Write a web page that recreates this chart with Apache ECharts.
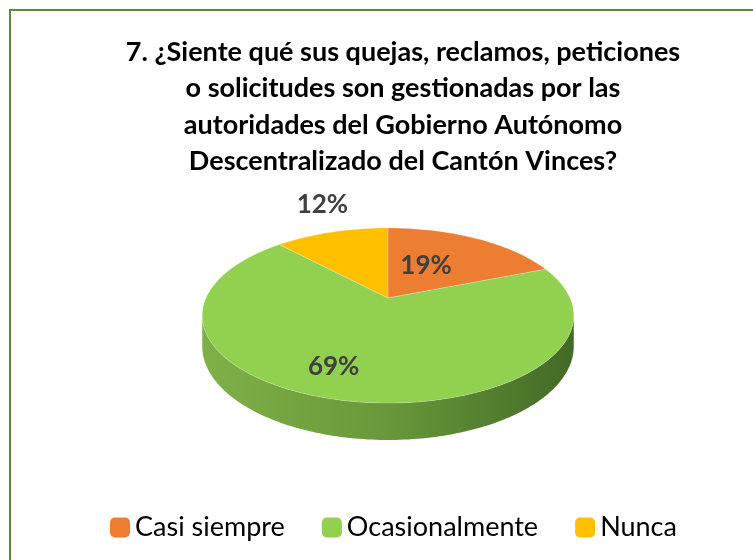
<!DOCTYPE html>
<html lang="es">

<head>
    <meta charset="UTF-8">
    <title>Pregunta 7</title>
    <script src="https://cdn.jsdelivr.net/npm/echarts@6/dist/echarts.min.js"></script>
    <style>
        body { margin: 0; background: #fff; }
        #main { width: 753px; height: 560px; }
    </style>
</head>

<body>
    <div id="main"></div>
    <script>
        // datos
        var categories = ['Casi siempre', 'Ocasionalmente', 'Nunca'];
        var values = [19, 69, 12];
        var colors = ['#ED7D31', '#92D050', '#FFC000'];
        var titleLines = [
            '7. ¿Siente qué sus quejas, reclamos, peticiones',
            'o solicitudes son gestionadas por las',
            'autoridades del Gobierno Autónomo',
            'Descentralizado del Cantón Vinces?'
        ];

        // geometria del pastel 3D (perspectiva simple)
        var cx = 388, cy = 298, K = 182;
        var sinA = 0.4615, cosA = 0.887, D = 4.43, thick = 0.183;
        // posicion de etiquetas: radio relativo y giro (grados) sobre el angulo medio
        var labelR = [0.48, 0.75, 1.5];
        var labelTurn = [-6, 7.4, 3.6];
        var total = values.reduce(function (a, b) { return a + b; }, 0);

        function project(r, t, lower) {
            var s = D / (D + r * Math.cos(t) * cosA);
            var x = cx + s * r * Math.sin(t) * K;
            var y = cy - s * r * Math.cos(t) * sinA * K;
            if (lower) y += s * thick * cosA * K;
            return [x, y];
        }

        function arc(a, b, lower) {
            var pts = [];
            var n = Math.max(2, Math.ceil((b - a) / 0.02));
            for (var k = 0; k <= n; k++) pts.push(project(1, a + (b - a) * k / n, lower));
            return pts;
        }

        // lado visible: entre las siluetas izquierda y derecha
        var tL = Math.acos(-cosA / D), tR = 2 * Math.PI - tL;

        function makeRender(i) {
            return function (params, api) {
                var before = 0;
                for (var j = 0; j < i; j++) before += values[j];
                var v = api.value(0);
                var a = before / total * 2 * Math.PI;
                var b = (before + v) / total * 2 * Math.PI;
                var children = [];

                var sa = Math.max(a, tL), sb = Math.min(b, tR);
                if (sb > sa) {
                    var up = arc(sa, sb, false);
                    var down = arc(sa, sb, true).reverse();
                    children.push({
                        type: 'polygon',
                        z2: 1,
                        shape: { points: up.concat(down) },
                        style: {
                            fill: i === 1 ? new echarts.graphic.LinearGradient(202, 0, 574, 0, [
                                { offset: 0, color: '#7fb048' },
                                { offset: 0.5, color: '#68983a' },
                                { offset: 1, color: '#436a26' }
                            ], true) : api.visual('color')
                        }
                    });
                }

                var top = [project(0, 0, false)].concat(arc(a, b, false));
                children.push({
                    type: 'polygon',
                    z2: 5,
                    shape: { points: top },
                    style: { fill: api.visual('color'), stroke: 'rgba(255,255,255,0.35)', lineWidth: 0.6 }
                });

                var mid = (a + b) / 2 + labelTurn[i] * Math.PI / 180;
                var lp = project(labelR[i], mid, false);
                children.push({
                    type: 'text',
                    z2: 10,
                    x: lp[0],
                    y: lp[1],
                    style: {
                        text: Math.round(v / total * 100) + '%',
                        fill: '#404040',
                        font: 'bold 26px Lato',
                        align: 'center',
                        verticalAlign: 'middle'
                    }
                });

                return { type: 'group', children: children };
            };
        }

        var myChart = echarts.init(document.getElementById('main'));
        myChart.setOption({
            backgroundColor: '#fff',
            animation: false,
            graphic: [{
                type: 'rect',
                shape: { x: 10, y: 10, width: 800, height: 600 },
                style: { fill: 'none', stroke: '#5b8a3c', lineWidth: 2 },
                silent: true
            }],
            title: {
                text: titleLines.join('\n'),
                left: 398,
                top: 29,
                textAlign: 'center',
                textStyle: {
                    fontFamily: 'Lato',
                    fontWeight: 'bold',
                    fontSize: 27,
                    lineHeight: 36.5,
                    color: '#000'
                }
            },
            legend: {
                data: categories,
                left: 105,
                top: 509,
                itemWidth: 20,
                itemHeight: 20,
                itemGap: 37,
                icon: 'roundRect',
                textStyle: { fontFamily: 'Lato', fontSize: 27, color: '#000' }
            },
            series: categories.map(function (name, i) {
                return {
                    type: 'custom',
                    name: name,
                    coordinateSystem: 'none',
                    data: [values[i]],
                    itemStyle: { color: colors[i] },
                    renderItem: makeRender(i)
                };
            })
        });
    </script>
</body>

</html>
